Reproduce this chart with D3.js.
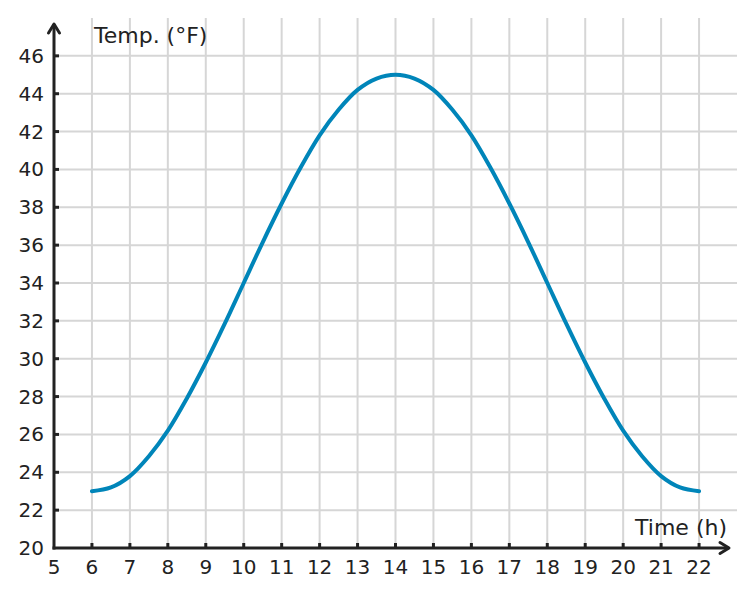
<!DOCTYPE html>
<html>
<head>
<meta charset="utf-8">
<script src="https://cdn.jsdelivr.net/npm/d3@7"></script>
<style>
body { margin: 0; background: #fff; }
text { font-family: "DejaVu Sans", sans-serif; fill: #222; }
</style>
</head>
<body>
<div id="chart"></div>
<script>
// hours of the day and temperature (every half hour)
var hours = [6, 6.5, 7, 7.5, 8, 8.5, 9, 9.5, 10, 10.5, 11, 11.5, 12, 12.5, 13, 13.5, 14,
	14.5, 15, 15.5, 16, 16.5, 17, 17.5, 18, 18.5, 19, 19.5, 20, 20.5, 21, 21.5, 22];
var temps = [23, 23.2, 23.8, 24.85, 26.2, 27.9, 29.8, 31.85, 34, 36.15, 38.2, 40.1, 41.8, 43.15, 44.2, 44.8, 45,
	44.8, 44.2, 43.15, 41.8, 40.1, 38.2, 36.15, 34, 31.85, 29.8, 27.9, 26.2, 24.85, 23.8, 23.2, 23];
var xTicks = [5, 6, 7, 8, 9, 10, 11, 12, 13, 14, 15, 16, 17, 18, 19, 20, 21, 22];
var yTicks = [20, 22, 24, 26, 28, 30, 32, 34, 36, 38, 40, 42, 44, 46];

var width = 755, height = 597;
var svg = d3.select("#chart").append("svg")
	.attr("width", width)
	.attr("height", height);

var x = d3.scaleLinear().domain([5, 23]).range([54, 737]);
var y = d3.scaleLinear().domain([20, 48]).range([548, 18]);

// grid
svg.selectAll("line.vgrid")
	.data(xTicks.filter(function(d) { return d > 5; }))
	.enter().append("line")
	.attr("class", "vgrid")
	.attr("x1", function(d) { return x(d); })
	.attr("x2", function(d) { return x(d); })
	.attr("y1", y(48))
	.attr("y2", y(20))
	.attr("stroke", "#d6d6d6")
	.attr("stroke-width", 2);

svg.selectAll("line.hgrid")
	.data(yTicks.filter(function(d) { return d > 20; }))
	.enter().append("line")
	.attr("class", "hgrid")
	.attr("x1", x(5))
	.attr("x2", x(23))
	.attr("y1", function(d) { return y(d); })
	.attr("y2", function(d) { return y(d); })
	.attr("stroke", "#d6d6d6")
	.attr("stroke-width", 2);

// curve
var line = d3.line()
	.x(function(d) { return x(d[0]); })
	.y(function(d) { return y(d[1]); })
	.curve(d3.curveCatmullRom.alpha(0.5));

svg.append("path")
	.datum(d3.zip(hours, temps))
	.attr("d", line)
	.attr("fill", "none")
	.attr("stroke", "#0085b9")
	.attr("stroke-width", 4)
	.attr("stroke-linecap", "round");

// axes
var axisColor = "#222";
svg.append("line")
	.attr("x1", x(5)).attr("x2", x(5))
	.attr("y1", y(20) + 1.5).attr("y2", 24)
	.attr("stroke", axisColor).attr("stroke-width", 3);
svg.append("path")
	.attr("d", "M" + (x(5) - 5.5) + ",33 L" + x(5) + ",24 L" + (x(5) + 5.5) + ",33")
	.attr("fill", "none").attr("stroke", axisColor).attr("stroke-width", 3)
	.attr("stroke-linecap", "round").attr("stroke-linejoin", "round");

svg.append("line")
	.attr("x1", x(5) - 1.5).attr("x2", 729)
	.attr("y1", y(20)).attr("y2", y(20))
	.attr("stroke", axisColor).attr("stroke-width", 3);
svg.append("path")
	.attr("d", "M720," + (y(20) - 5.5) + " L729," + y(20) + " L720," + (y(20) + 5.5))
	.attr("fill", "none").attr("stroke", axisColor).attr("stroke-width", 3)
	.attr("stroke-linecap", "round").attr("stroke-linejoin", "round");

// y ticks
svg.selectAll("line.ytick")
	.data(yTicks.filter(function(d) { return d > 20; }))
	.enter().append("line")
	.attr("class", "ytick")
	.attr("x1", x(5)).attr("x2", x(5) + 5)
	.attr("y1", function(d) { return y(d); })
	.attr("y2", function(d) { return y(d); })
	.attr("stroke", axisColor).attr("stroke-width", 3);

svg.selectAll("text.ylab")
	.data(yTicks)
	.enter().append("text")
	.attr("class", "ylab")
	.attr("x", 44)
	.attr("y", function(d) { return y(d) + 7; })
	.attr("text-anchor", "end")
	.attr("font-size", 20)
	.text(function(d) { return d; });

// x ticks
svg.selectAll("line.xtick")
	.data(xTicks.filter(function(d) { return d > 5; }))
	.enter().append("line")
	.attr("class", "xtick")
	.attr("x1", function(d) { return x(d); })
	.attr("x2", function(d) { return x(d); })
	.attr("y1", y(20)).attr("y2", y(20) - 5)
	.attr("stroke", axisColor).attr("stroke-width", 3);

svg.selectAll("text.xlab")
	.data(xTicks)
	.enter().append("text")
	.attr("class", "xlab")
	.attr("x", function(d) { return x(d); })
	.attr("y", 574)
	.attr("text-anchor", "middle")
	.attr("font-size", 20)
	.text(function(d) { return d; });

// axis titles
svg.append("text")
	.attr("x", 94).attr("y", 43)
	.attr("font-size", 22)
	.text("Temp. (°F)");

svg.append("text")
	.attr("x", 727).attr("y", 535)
	.attr("text-anchor", "end")
	.attr("font-size", 22)
	.text("Time (h)");
</script>
</body>
</html>
